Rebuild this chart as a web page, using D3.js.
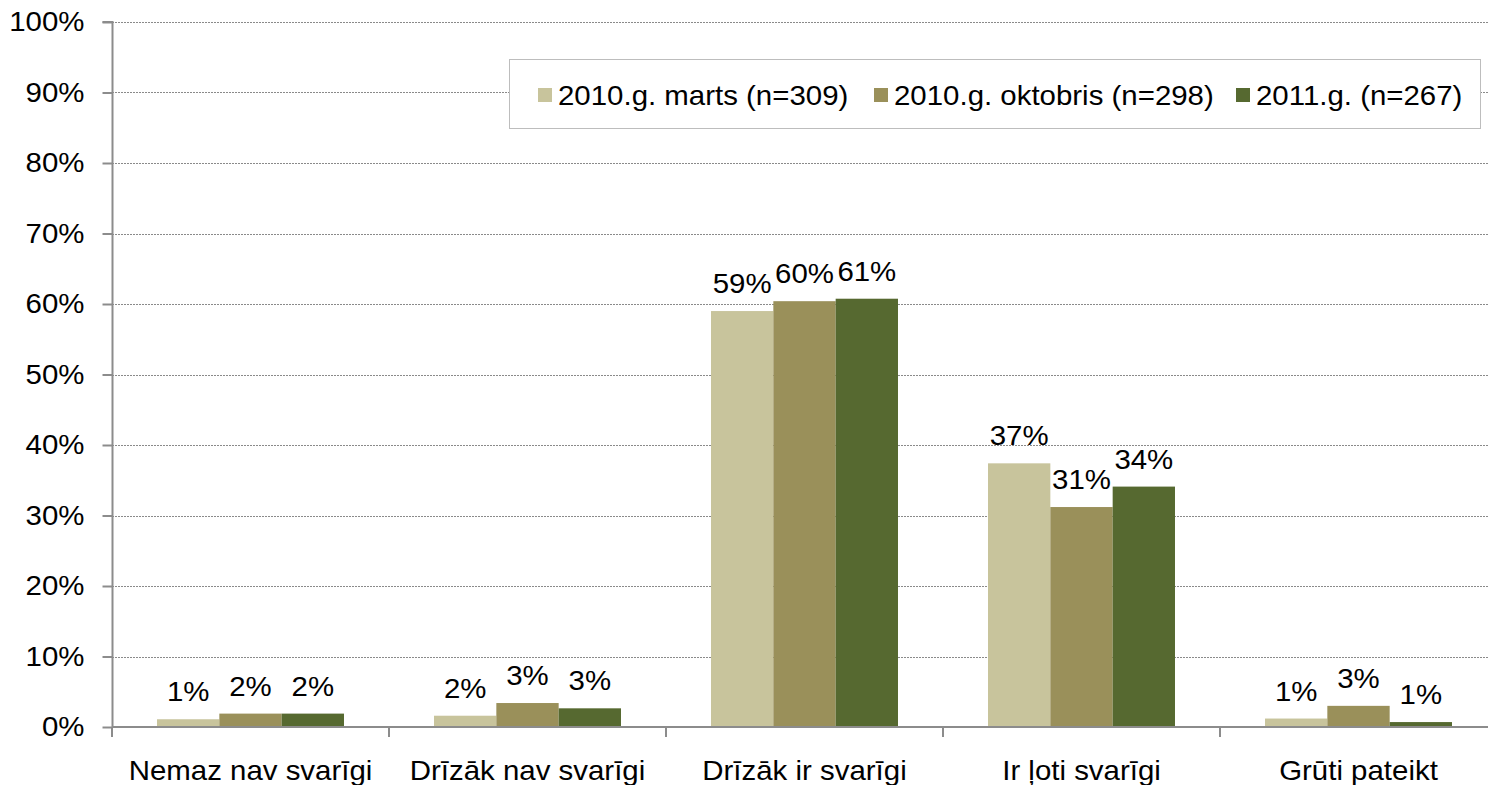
<!DOCTYPE html>
<html>
<head>
<meta charset="utf-8">
<script src="https://cdn.jsdelivr.net/npm/d3@7"></script>
<style>
  html, body { margin: 0; padding: 0; background: #fff; }
  svg { display: block; font-family: "Liberation Sans", Arial, sans-serif; }
</style>
</head>
<body>
<svg id="chart" width="1488" height="785"></svg>
<script>
const categories = ["Nemaz nav svarīgi", "Drīzāk nav svarīgi", "Drīzāk ir svarīgi", "Ir ļoti svarīgi", "Grūti pateikt"];
const seriesNames = ["2010.g. marts (n=309)", "2010.g. oktobris (n=298)", "2011.g. (n=267)"];
const marts2010 = [1.1, 1.6, 59.0, 37.4, 1.2];
const oktobris2010 = [1.9, 3.4, 60.4, 31.2, 3.0];
const year2011 = [1.9, 2.65, 60.75, 34.1, 0.7];
const seriesLabels = [
  ["1%", "2%", "59%", "37%", "1%"],
  ["2%", "3%", "60%", "31%", "3%"],
  ["2%", "3%", "61%", "34%", "1%"]
];
const yTicks = [0, 10, 20, 30, 40, 50, 60, 70, 80, 90, 100];
const colors = ["#C8C49C", "#9A905A", "#566930"];

const seriesValues = [marts2010, oktobris2010, year2011];
const svg = d3.select("#chart");
const mLeft = 112, mRight = 1497, mTop = 22, mBottom = 727, visRight = 1488;
const fontSize = 27;
const sx = 1.09;

function stretch(sel) {
  sel.each(function () {
    const t = d3.select(this);
    const tx = +t.attr("x") || 0, ty = +t.attr("y") || 0;
    t.attr("x", 0).attr("y", 0).attr("transform", `translate(${tx},${ty}) scale(${sx},1)`);
  });
}

const x = d3.scaleBand().domain(categories).range([mLeft, mRight]).paddingInner(0).paddingOuter(0);
const groupPad = 0.1625;
const x1 = d3.scaleBand().domain(d3.range(seriesNames.length))
  .range([x.bandwidth() * groupPad, x.bandwidth() * (1 - groupPad)]).padding(0);
const y = d3.scaleLinear().domain([0, 100]).range([mBottom, mTop]);

// gridlines
svg.append("g").selectAll("line").data(yTicks.filter(t => t > 0)).join("line")
  .attr("x1", mLeft).attr("x2", visRight)
  .attr("y1", d => Math.round(y(d)) + 0.5).attr("y2", d => Math.round(y(d)) + 0.5)
  .attr("stroke", "#8a8a8a").attr("stroke-width", 1).attr("stroke-dasharray", "2,1");

// y axis
const yAxis = d3.axisLeft(y).tickValues(yTicks).tickFormat(d => d + "%").tickSize(10).tickPadding(18);
const gy = svg.append("g").attr("transform", `translate(${mLeft + 0.5},0)`).call(yAxis);
gy.select(".domain").attr("stroke", "#8c8c8c").attr("stroke-width", 2).attr("d", `M-10,${y(100)}H0V${y(0)}`);
gy.selectAll(".tick line").attr("stroke", "#8c8c8c").attr("stroke-width", 2);
gy.selectAll(".tick text").attr("font-size", fontSize).attr("fill", "#000")
  .attr("font-family", "Liberation Sans, Arial, sans-serif").call(stretch);

// bars
const groups = svg.append("g").selectAll("g").data(categories).join("g")
  .attr("transform", d => `translate(${x(d)},0)`);
groups.selectAll("rect").data((c, i) => seriesValues.map((s, k) => ({ k, v: s[i], lab: seriesLabels[k][i] })))
  .join("rect")
  .attr("x", d => x1(d.k)).attr("width", x1.bandwidth())
  .attr("y", d => y(d.v)).attr("height", d => y(0) - y(d.v))
  .attr("fill", d => colors[d.k]);

groups.selectAll("text").data((c, i) => seriesValues.map((s, k) => ({ k, v: s[i], lab: seriesLabels[k][i] })))
  .join("text")
  .attr("x", d => x1(d.k) + x1.bandwidth() / 2)
  .attr("y", d => y(d.v) - 18)
  .attr("text-anchor", "middle").attr("font-size", fontSize).attr("fill", "#000")
  .text(d => d.lab).call(stretch);

// x axis
const gx = svg.append("g").attr("transform", `translate(0,${mBottom})`);
gx.append("line").attr("x1", mLeft).attr("x2", visRight).attr("y1", 0).attr("y2", 0)
  .attr("stroke", "#8c8c8c").attr("stroke-width", 2);
const boundaries = categories.map(c => x(c)).concat([mRight]);
gx.selectAll("line.tk").data(boundaries).join("line").attr("class", "tk")
  .attr("x1", d => d).attr("x2", d => d).attr("y1", 0).attr("y2", 10)
  .attr("stroke", "#8c8c8c").attr("stroke-width", 2);
gx.selectAll("text").data(categories).join("text")
  .attr("x", d => x(d) + x.bandwidth() / 2).attr("y", 53)
  .attr("text-anchor", "middle").attr("font-size", fontSize).attr("fill", "#000")
  .text(d => d).call(stretch);

// legend
const lg = svg.append("g");
lg.append("rect").attr("x", 509.5).attr("y", 59.5).attr("width", 971).attr("height", 69)
  .attr("fill", "#fff").attr("stroke", "#bdbdbd").attr("stroke-width", 1);
const legendX = [538, 874, 1236];
const items = lg.selectAll("g").data(seriesNames).join("g")
  .attr("transform", (d, i) => `translate(${legendX[i]},88)`);
items.append("rect").attr("width", 14).attr("height", 14).attr("fill", (d, i) => colors[i]);
items.append("text").attr("x", 20).attr("y", 17).attr("font-size", fontSize).attr("fill", "#000")
  .text(d => d).call(stretch);
</script>
</body>
</html>
